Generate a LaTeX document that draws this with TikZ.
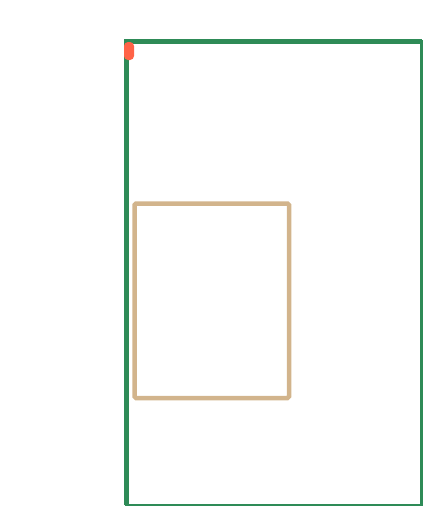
\documentclass[tikz,border=0pt]{standalone}
\usetikzlibrary{positioning}
\definecolor{framegreen}{RGB}{46,139,87}
\definecolor{boxtan}{RGB}{210,180,140}
\definecolor{markred}{RGB}{255,99,71}

\begin{document}
\begin{tikzpicture}[x=1pt, y=-1pt,
    outer/.style = {draw=framegreen, line width=2.5pt},
    outerthick/.style = {draw=framegreen, line width=5pt},
    inner/.style = {draw=boxtan, line width=4.5pt, rounded corners=1.5pt},
    marker/.style = {fill=markred, rounded corners=4pt}
  ]
    \useasboundingbox (0,0) rectangle (423,507);

    % outer frame
    \draw[outer] (126.5,41.5) rectangle (421.5,505);
    \draw[outerthick] (126.5,505) -- (126.5,41.5) -- (421.5,41.5);

    % inner box
    \draw[inner] (134.5,203.5) rectangle (289,398);

    % corner marker
    \fill[marker] (124,42) rectangle (134,60);
  \end{tikzpicture}
\end{document}
